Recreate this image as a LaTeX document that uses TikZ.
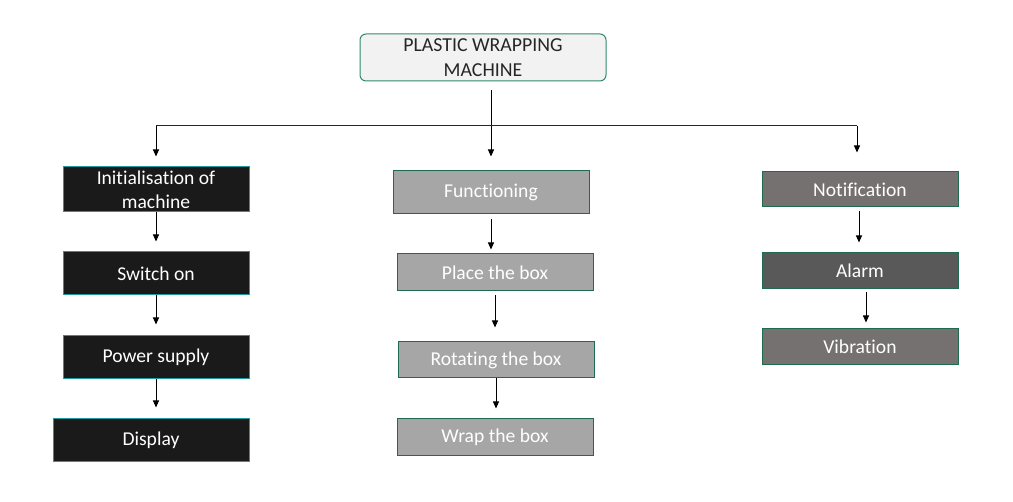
\documentclass[tikz,border=0pt]{standalone}
\usepackage{fontspec}
\setmainfont{Carlito}[Ligatures=NoCommon]
\usetikzlibrary{arrows.meta}
\definecolor{topfill}{HTML}{F2F2F2}
\definecolor{topedge}{HTML}{2E8B66}
\definecolor{blackfill}{HTML}{1A1A1A}
\definecolor{tealedge}{HTML}{2299A0}
\definecolor{midfill}{HTML}{A6A6A6}
\definecolor{greenedge}{HTML}{1E6B4E}
\definecolor{rightfill}{HTML}{767171}
\definecolor{alarmfill}{HTML}{595959}
\definecolor{titletext}{HTML}{262626}
\tikzset{
  boxbase/.style={draw, line width=1pt, inner sep=0pt, text=white,
    font=\fontsize{19.6}{24}\selectfont, align=center},
  leftbox/.style={boxbase, fill=blackfill, draw=tealedge},
  midbox/.style={boxbase, fill=midfill, draw=greenedge},
  rightbox/.style={boxbase, fill=rightfill, draw=greenedge},
  alarmbox/.style={boxbase, fill=alarmfill, draw=greenedge},
  topbox/.style={draw=topedge, fill=topfill, line width=1pt, rounded corners=6pt,
    inner sep=0pt, text=titletext, font=\fontsize{19.8}{25}\selectfont, align=center},
  conn/.style={draw=black, line width=1pt, -{Triangle[length=7pt,width=6pt]}},
  plainline/.style={draw=black!85, line width=1pt}
}
\begin{document}
\begin{tikzpicture}[x=1pt,y=-1pt]
\useasboundingbox (0,0) rectangle (1013,502);
% top
\node[topbox, minimum width=246pt, minimum height=47pt] (top) at (483,57.5) {PLASTIC WRAPPING\\MACHINE};
% left column
\node[leftbox, minimum width=186pt, minimum height=45pt] (init) at (156,189.5) {Initialisation of\\machine};
\node[leftbox, minimum width=186pt, minimum height=43pt] (sw) at (156,273.5) {Switch on};
\node[leftbox, minimum width=186pt, minimum height=43pt] (pow) at (156,357.5) {Power supply};
\node[leftbox, minimum width=196pt, minimum height=43pt] (disp) at (151,440.5) {Display};
% middle column
\node[midbox, minimum width=196pt, minimum height=43pt] (func) at (491,192.5) {Functioning};
\node[midbox, minimum width=196pt, minimum height=37pt] (place) at (495,272.5) {Place the box};
\node[midbox, minimum width=196pt, minimum height=36pt] (rot) at (496,360) {Rotating the box};
\node[midbox, minimum width=196pt, minimum height=37pt] (wrap) at (495,437.5) {Wrap the box};
% right column
\node[rightbox, minimum width=196pt, minimum height=35pt] (notif) at (860,189.5) {Notification};
\node[alarmbox, minimum width=196pt, minimum height=36pt] (alarm) at (860,271) {Alarm};
\node[rightbox, minimum width=196pt, minimum height=36pt] (vib) at (860,347) {Vibration};
% tree connectors
\coordinate (hub) at (491,126);
\coordinate (hl) at (156,126);
\coordinate (hr) at (857,126);
\draw[conn] ([yshift=-9pt]top.south -| func.north) -- ([yshift=14pt]func.north);
\draw[plainline] (hl) -- (hr);
\draw[conn] (hl) -- ([yshift=10pt]init.north);
\draw[conn] (hr) -- ([yshift=19pt]notif.north -| hr);
% left column arrows
\draw[conn, shorten >=10pt] (init.south) -- (sw.north);
\draw[conn, shorten >=11pt] (sw.south) -- (pow.north);
\draw[conn, shorten >=11pt] (pow.south) -- (disp.north -| pow.south);
% middle column arrows
\draw[conn, shorten <=5pt, shorten >=4pt] (func.south) -- (place.north -| func.south);
\draw[conn, shorten <=4pt, shorten >=14pt] (place.south) -- (rot.north -| place.south);
\draw[conn, shorten >=10pt] (rot.south) -- (wrap.north -| rot.south);
% right column arrows
\draw[conn, shorten <=4pt, shorten >=10pt] ([xshift=-1pt]notif.south) -- ([xshift=-1pt]alarm.north);
\draw[conn, shorten <=3pt, shorten >=6pt] ([xshift=6pt]alarm.south) -- ([xshift=6pt]vib.north);
\end{tikzpicture}
\end{document}
